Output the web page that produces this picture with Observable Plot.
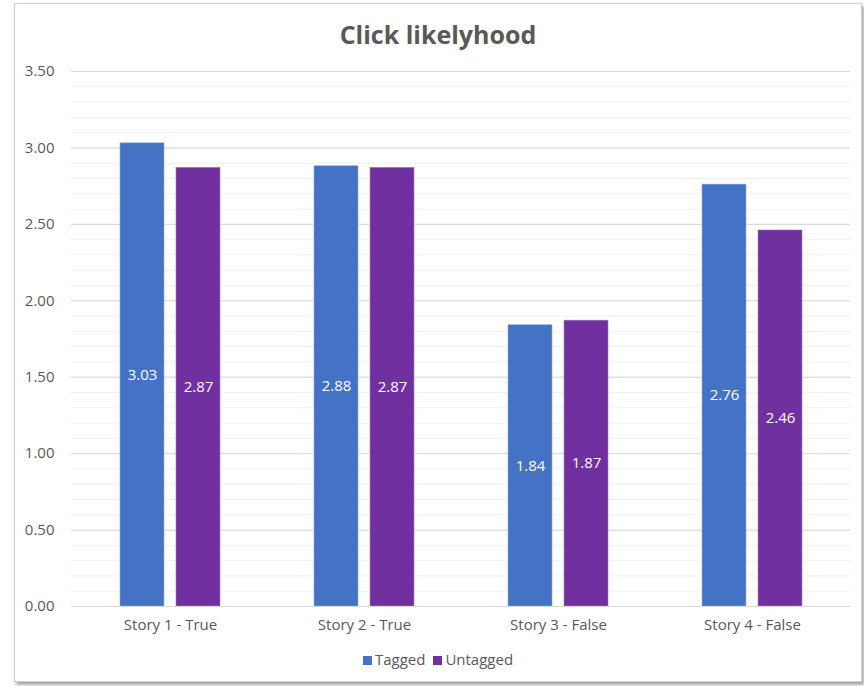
<!DOCTYPE html>
<html>
<head>
<meta charset="utf-8">
<script src="https://cdn.jsdelivr.net/npm/d3@7"></script>
<script src="https://cdn.jsdelivr.net/npm/@observablehq/plot@0.6"></script>
<style>
  body { margin: 0; background: #ffffff; font-family: "Open Sans", "Noto Sans", sans-serif; }
  #frame { position: absolute; left: 14px; top: 3px; width: 846px; height: 677px; background: #fff;
           border: 1px solid #d0d0d0; box-shadow: 2px 3px 3px rgba(0,0,0,0.35); }
  #title { position: absolute; left: 0; width: 100%; top: 13px; text-align: center;
           font-size: 25px; font-weight: 700; color: #595959; }
  #chart { position: absolute; left: 0; top: 52px; }
  #legend { position: absolute; left: 0; width: 100%; top: 645px; text-align: center;
            font-size: 15px; color: #595959; }
  .sw { display: inline-block; width: 9px; height: 9px; margin-right: 3px; vertical-align: 0px; }
  .item { margin: 0 4px; }
</style>
</head>
<body>
<div id="frame">
  <div id="title">Click likelyhood</div>
  <div id="chart"></div>
  <div id="legend"></div>
</div>
<script>
const categories = ["Story 1 - True", "Story 2 - True", "Story 3 - False", "Story 4 - False"];
const series = ["Tagged", "Untagged"];
const tagged = [3.03, 2.88, 1.84, 2.76];
const untagged = [2.87, 2.87, 1.87, 2.46];
const colors = ["#4472C4", "#7030A0"];
const yTickValues = [0, 0.5, 1, 1.5, 2, 2.5, 3, 3.5];

const data = [];
categories.forEach((c, i) => {
  data.push({story: c, series: "Tagged", value: tagged[i]});
  data.push({story: c, series: "Untagged", value: untagged[i]});
});
const minorTicks = d3.range(0, 36).map(k => k / 10);

const half = 28;
const chart = Plot.plot({
  width: 846,
  height: 590,
  marginLeft: 56,
  marginRight: 11,
  marginTop: 15,
  marginBottom: 40,
  style: {fontFamily: "'Open Sans', 'Noto Sans', sans-serif", fontSize: "15px", color: "#595959", background: "transparent"},
  x: {domain: categories, paddingInner: 0.4865, paddingOuter: 0.243, label: null, tickSize: 0, tickPadding: 13},
  y: {domain: [0, 3.5], ticks: yTickValues, tickFormat: d => d.toFixed(2), tickSize: 0, tickPadding: 17, label: null},
  marks: [
    Plot.ruleY(minorTicks, {stroke: "#f0f0f0", strokeWidth: 1}),
    Plot.ruleY(yTickValues, {stroke: "#d9d9d9", strokeWidth: 1}),
    Plot.barY(data.filter(d => d.series === "Tagged"), {x: "story", y: "value", fill: colors[0], insetRight: 56, stroke: "#8fa9dc", strokeWidth: 0.6}),
    Plot.barY(data.filter(d => d.series === "Untagged"), {x: "story", y: "value", fill: colors[1], insetLeft: 56, stroke: "#a080c0", strokeWidth: 0.6}),
    Plot.text(data.filter(d => d.series === "Tagged"), {x: "story", y: d => d.value / 2, text: d => d.value.toFixed(2), dx: -half, fill: "white", fontSize: 15}),
    Plot.text(data.filter(d => d.series === "Untagged"), {x: "story", y: d => d.value / 2, text: d => d.value.toFixed(2), dx: half, fill: "white", fontSize: 15}),
    Plot.ruleY([0], {stroke: "#d9d9d9"})
  ]
});
document.getElementById("chart").appendChild(chart);

const legend = document.getElementById("legend");
series.forEach((s, i) => {
  const span = document.createElement("span");
  span.className = "item";
  span.innerHTML = `<span class="sw" style="background:${colors[i]}"></span>${s}`;
  legend.appendChild(span);
});
</script>
</body>
</html>
